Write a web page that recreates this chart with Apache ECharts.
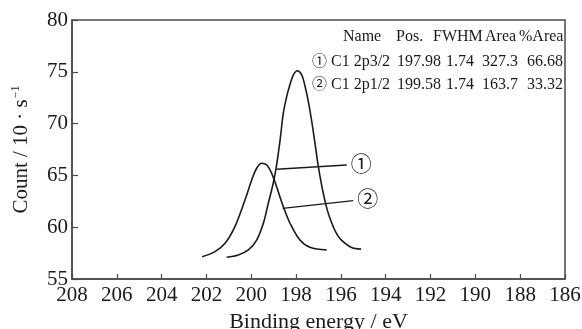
<!DOCTYPE html>
<html>
<head>
<meta charset="utf-8">
<script src="https://cdn.jsdelivr.net/npm/echarts@6/dist/echarts.min.js"></script>
<style>
  html, body { margin: 0; padding: 0; background: #fff; }
  #chart { width: 582px; height: 329px; }
</style>
</head>
<body>
<div id="chart"></div>
<script>
// fitted peaks: [binding energy eV, count]
const peak1 = [
  [201.10, 57.10], [200.58, 57.32], [200.13, 57.80], [199.76, 58.76], [199.46, 60.38],
  [199.24, 62.31], [199.02, 64.24], [198.87, 66.0], [198.72, 68.3], [198.57, 71.0],
  [198.42, 72.6], [198.27, 73.8], [198.12, 74.7], [197.95, 75.1], [197.75, 74.7],
  [197.60, 73.6], [197.46, 72.2], [197.30, 70.2], [197.15, 68.0], [197.01, 65.9],
  [196.79, 63.3], [196.60, 61.6], [196.41, 60.4], [196.20, 59.4], [196.00, 58.8],
  [195.55, 58.07], [195.10, 57.88]
];
const peak2 = [
  [202.19, 57.15], [201.62, 57.64], [201.17, 58.44], [200.73, 60.05], [200.28, 62.63],
  [199.98, 64.56], [199.76, 65.69], [199.54, 66.17], [199.31, 66.0], [199.09, 65.2],
  [198.87, 63.91], [198.57, 61.98], [198.27, 60.38], [197.83, 58.76], [197.38, 58.06],
  [196.63, 57.80]
];
// leader lines to the ① ② markers
const leader1 = [[198.87, 65.59], [195.74, 66.0]];
const leader2 = [[198.60, 61.82], [195.45, 62.56]];
const markers = ['①', '②'];

// fit table
const tableHead = ['Name', 'Pos.', 'FWHM', 'Area', '%Area'];
const names = ['C1 2p3/2', 'C1 2p1/2'];
const positions = ['197.98', '199.58'];
const fwhm = ['1.74', '1.74'];
const areas = ['327.3', '163.7'];
const pctArea = ['66.68', '33.32'];

const serif = "'Liberation Serif', 'Times New Roman', 'Noto Sans CJK SC', serif";
const ink = '#1a1a1a';

const chart = echarts.init(document.getElementById('chart'));

function txt(text, x, y, size) {
  return {
    type: 'text', x: x, y: y,
    style: { text: text, font: (size || 16) + 'px ' + serif, fill: ink, textVerticalAlign: 'middle' }
  };
}

// table laid out column by column
const headX = [343, 396, 433, 485, 519];
const cellX = [331, 397, 446, 482, 527];
const rowY = [37, 62, 85];
const tableText = [];
tableHead.forEach((h, i) => tableText.push(txt(h, headX[i], rowY[0])));
[names, positions, fwhm, areas, pctArea].forEach((col, c) => {
  col.forEach((v, r) => tableText.push(txt(v, cellX[c], rowY[r + 1])));
});
markers.forEach((m, r) => tableText.push(txt(m, 312, rowY[r + 1], 15)));

function leaderSeries(pts, mark) {
  return {
    type: 'line',
    data: pts.map((p, i) => i === pts.length - 1
      ? { value: p, label: { show: true, formatter: mark, position: 'right', distance: 4,
          fontFamily: serif, fontSize: 21, color: ink } }
      : p),
    symbol: 'circle', symbolSize: 0, showSymbol: true,
    lineStyle: { color: ink, width: 1.4 },
    silent: true
  };
}

const option = {
  backgroundColor: '#fff',
  animation: false,
  grid: {
    left: 72, right: 17, top: 20, bottom: 50,
    outerBoundsMode: 'none',
    show: true, borderColor: '#4a4a4a', borderWidth: 1.5
  },
  xAxis: {
    type: 'value', min: 186, max: 208, interval: 2, inverse: true,
    name: 'Binding energy / eV', nameLocation: 'middle', nameGap: 27,
    nameTextStyle: { fontFamily: serif, fontSize: 22, color: ink },
    axisLine: { lineStyle: { color: '#4a4a4a', width: 1.5 } },
    axisTick: { inside: true, length: 5, lineStyle: { color: '#4a4a4a', width: 1.2 } },
    axisLabel: { fontFamily: serif, fontSize: 21, color: ink, margin: 6 },
    splitLine: { show: false }
  },
  yAxis: {
    type: 'value', min: 55, max: 80, interval: 5,
    name: 'Count / 10 · s{sup|−1}', nameLocation: 'middle', nameGap: 40,
    nameTextStyle: {
      fontFamily: serif, fontSize: 21, color: ink,
      rich: { sup: { fontFamily: serif, fontSize: 12, color: ink, verticalAlign: 'top', padding: [0, 0, 10, 1] } }
    },
    axisLine: { lineStyle: { color: '#4a4a4a', width: 1.5 } },
    axisTick: { inside: true, length: 6, lineStyle: { color: '#4a4a4a', width: 1.2 } },
    axisLabel: { fontFamily: serif, fontSize: 21, color: ink, margin: 4 },
    splitLine: { show: false }
  },
  graphic: tableText,
  series: [
    { type: 'line', data: peak1, smooth: 0.35, showSymbol: false, lineStyle: { color: ink, width: 1.6 } },
    { type: 'line', data: peak2, smooth: 0.35, showSymbol: false, lineStyle: { color: ink, width: 1.6 } },
    leaderSeries(leader1, markers[0]),
    leaderSeries(leader2, markers[1])
  ]
};

chart.setOption(option);
</script>
</body>
</html>
